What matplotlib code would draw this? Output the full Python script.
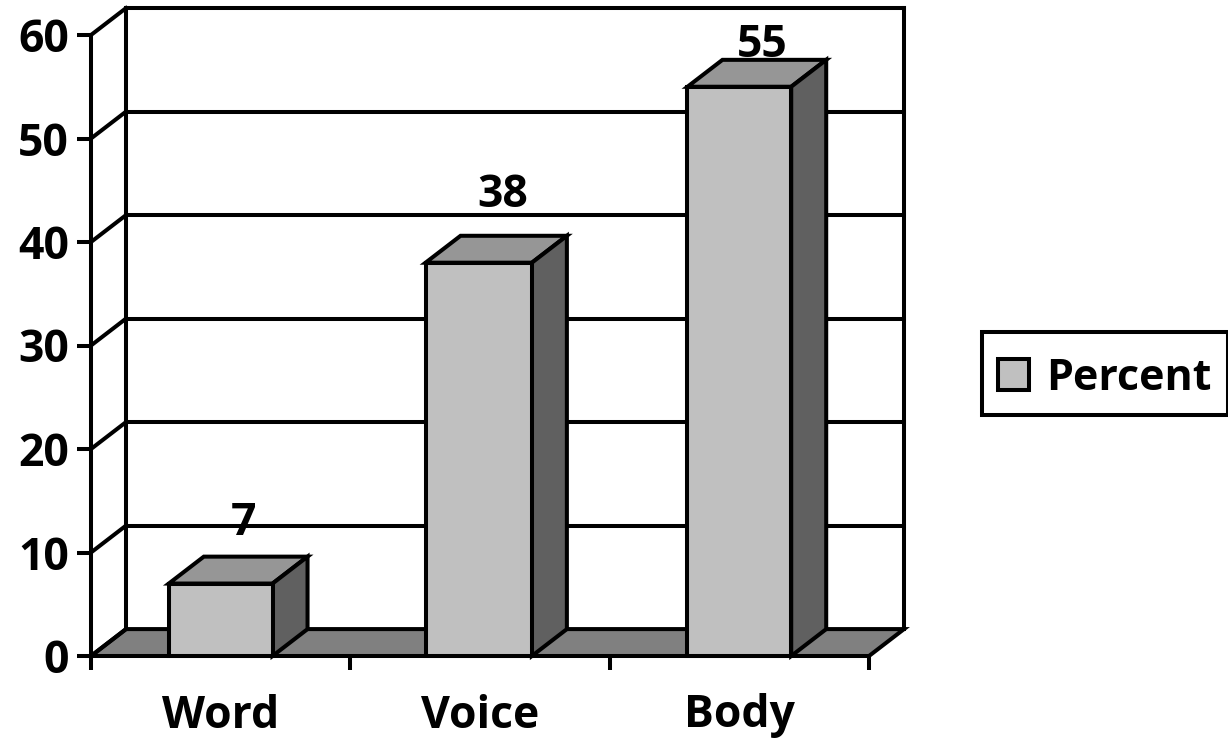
import numpy as np
import matplotlib
matplotlib.use("Agg")
import matplotlib.pyplot as plt
from matplotlib.patches import Polygon, Patch

categories = ["Word", "Voice", "Body"]
percent = [7, 38, 55]
y_ticks = [0, 10, 20, 30, 40, 50, 60]
legend_label = "Percent"

# depth of the fake 3d box, in data units
dx = 0.135
dy = 2.6
lw = 2.9
bar_left = [0.30, 1.29, 2.30]
bar_right = [0.70, 1.70, 2.70]
label_lift = [6.3, 7.0, 4.5]
label_shift = 0.087

front_col = "#c0c0c0"
top_col = "#969696"
side_col = "#606060"
floor_col = "#808080"

plt.rcParams["font.family"] = ["Open Sans", "DejaVu Sans"]
plt.rcParams["font.weight"] = "bold"
fs = 32

fig = plt.figure(figsize=(12.28, 7.39), dpi=100)
ax = fig.add_axes([91 / 1228, 1 - 656 / 739, 778 / 1228, 621 / 739])
ax.set_xlim(0, 3)
ax.set_ylim(0, 60)
for s in ax.spines.values():
    s.set_visible(False)
ax.patch.set_visible(False)


def line(xs, ys, z=2):
    ax.plot(xs, ys, color="black", lw=lw, clip_on=False, zorder=z, solid_capstyle="projecting")


def box(x0, x1, h, z):
    ax.add_patch(Polygon([(x0, h), (x1, h), (x1 + dx, h + dy), (x0 + dx, h + dy)], closed=True,
                         fc=top_col, ec="black", lw=lw, clip_on=False, zorder=z, joinstyle="miter"))
    ax.add_patch(Polygon([(x1, 0), (x1 + dx, dy), (x1 + dx, h + dy), (x1, h)], closed=True,
                         fc=side_col, ec="black", lw=lw, clip_on=False, zorder=z, joinstyle="miter"))
    ax.add_patch(Polygon([(x0, 0), (x1, 0), (x1, h), (x0, h)], closed=True,
                         fc=front_col, ec="black", lw=lw, clip_on=False, zorder=z + 0.1, joinstyle="miter"))


# floor and walls
ax.add_patch(Polygon([(0, 0), (3, 0), (3 + dx, dy), (dx, dy)], closed=True, fc=floor_col,
                     ec="black", lw=lw, clip_on=False, zorder=1))
for t in y_ticks[1:]:
    line([dx, 3 + dx], [t + dy, t + dy])
for t in y_ticks:
    line([0, dx], [t, t + dy])
line([0, 0], [0, 60])
line([dx, dx], [dy, 60 + dy])
line([3 + dx, 3 + dx], [dy, 60 + dy])

# bars and value labels
for i, v in enumerate(percent):
    box(bar_left[i], bar_right[i], v, 3 + i)
    ax.text(i + 0.5 + label_shift, v + label_lift[i], str(v), ha="center", va="center_baseline",
            fontsize=fs, fontweight="bold", zorder=8, clip_on=False)

ax.set_yticks(y_ticks)
ax.set_xticks(range(len(categories) + 1))
ax.set_xticks([i + 0.5 for i in range(len(categories))], minor=True)
ax.set_xticklabels([""] * (len(categories) + 1))
ax.set_xticklabels(categories, minor=True, fontsize=fs, fontweight="bold")
ax.tick_params(axis="y", length=10, width=lw, labelsize=fs, pad=6)
ax.tick_params(axis="x", which="major", length=10, width=lw)
ax.tick_params(axis="x", which="minor", length=0, pad=27)

# the blank title pushes the entry a little below the middle of the frame
handle = Patch(fc=front_col, ec="black", lw=lw)
leg = fig.legend(handles=[handle], labels=[legend_label], loc="center left",
                 bbox_to_anchor=(982 / 1228, 1 - 373.5 / 739), fontsize=31, frameon=True,
                 fancybox=False, edgecolor="black", framealpha=1, borderaxespad=0,
                 handlelength=0.72, handleheight=0.72, handletextpad=0.42, borderpad=0.36,
                 labelspacing=0, title=" ", title_fontsize=6)
leg.get_frame().set_linewidth(lw)

fig.savefig("out.png", dpi=100)
